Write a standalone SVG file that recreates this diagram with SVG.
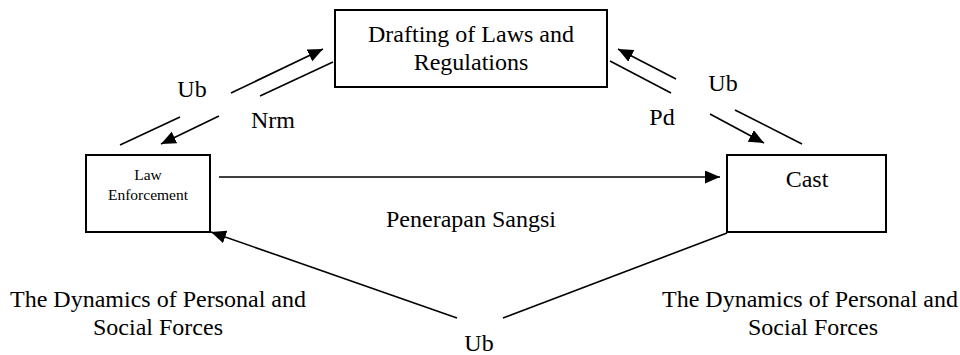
<svg xmlns="http://www.w3.org/2000/svg" width="960" height="355" viewBox="0 0 960 355">
<style>
text{font-family:"Liberation Serif","Times New Roman",serif;fill:#000;}
.t{font-size:24px;}
.s{font-size:15.5px;}
.box{fill:#fff;stroke:#000;stroke-width:2;}
.ln{stroke:#000;stroke-width:1.6;fill:none;}
</style>
<defs>
<marker id="ah" markerUnits="userSpaceOnUse" markerWidth="16" markerHeight="14" refX="15" refY="6.5" orient="auto">
<path d="M0,0 L15,6.5 L0,13 z" fill="#000"/>
</marker>
</defs>
<rect width="960" height="355" fill="#fff"/>
<g id="connectors">
<line class="ln" x1="120" y1="145" x2="180" y2="117"/>
<line class="ln" x1="231" y1="93" x2="323" y2="49" marker-end="url(#ah)"/>
<line class="ln" x1="333" y1="62" x2="260" y2="96"/>
<line class="ln" x1="219" y1="116" x2="161" y2="144" marker-end="url(#ah)"/>
<line class="ln" x1="610" y1="61" x2="671" y2="93"/>
<line class="ln" x1="710" y1="114" x2="764" y2="143" marker-end="url(#ah)"/>
<line class="ln" x1="802" y1="144" x2="735" y2="110"/>
<line class="ln" x1="676" y1="79" x2="618" y2="49" marker-end="url(#ah)"/>
<line class="ln" x1="219" y1="177" x2="720" y2="177" marker-end="url(#ah)"/>
<line class="ln" x1="727" y1="233" x2="503" y2="318"/>
<line class="ln" x1="457" y1="318" x2="211" y2="232" marker-end="url(#ah)"/>
<text class="t" x="192" y="97" text-anchor="middle">Ub</text>
<text class="t" x="273" y="128" text-anchor="middle">Nrm</text>
<text class="t" x="723" y="91" text-anchor="middle">Ub</text>
<text class="t" x="662" y="125" text-anchor="middle">Pd</text>
<text class="t" x="471" y="227" text-anchor="middle">Penerapan Sangsi</text>
<text class="t" x="479" y="351" text-anchor="middle">Ub</text>
</g>
<g id="drafting">
<rect class="box" x="335" y="10" width="272" height="77"/>
<text class="t" x="471" y="42" text-anchor="middle">Drafting of Laws and</text>
<text class="t" x="471" y="70" text-anchor="middle">Regulations</text>
</g>
<g id="law-enforcement">
<rect class="box" x="86" y="155" width="124" height="77"/>
<text class="s" x="148" y="180" text-anchor="middle">Law</text>
<text class="s" x="148" y="200" text-anchor="middle">Enforcement</text>
</g>
<g id="cast">
<rect class="box" x="727" y="155" width="159" height="77"/>
<text class="t" x="807" y="187" text-anchor="middle">Cast</text>
</g>
<g id="dynamics-left">
<text class="t" x="158" y="307" text-anchor="middle">The Dynamics of Personal and</text>
<text class="t" x="158" y="335" text-anchor="middle">Social Forces</text>
</g>
<g id="dynamics-right">
<text class="t" x="810" y="307" text-anchor="middle">The Dynamics of Personal and</text>
<text class="t" x="813" y="335" text-anchor="middle">Social Forces</text>
</g>
</svg>
